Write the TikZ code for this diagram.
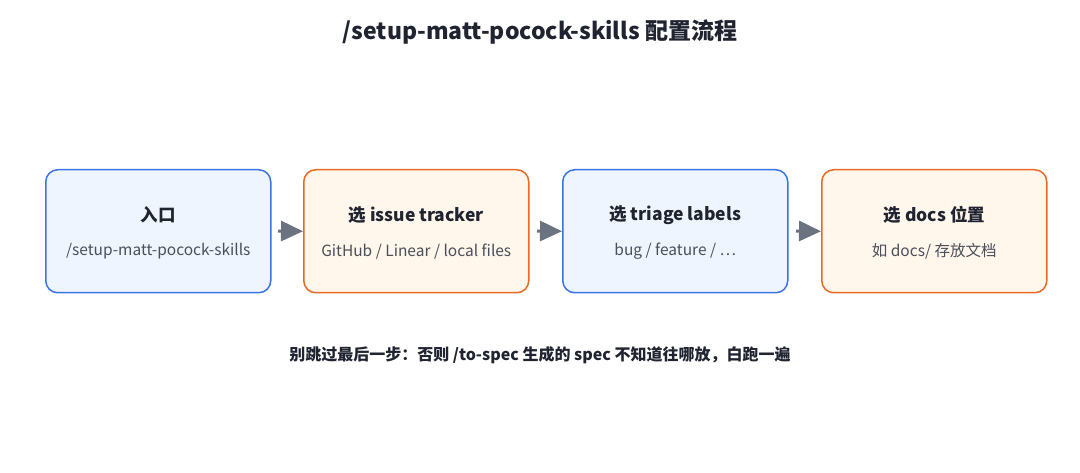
\documentclass[tikz,border=0pt]{standalone}
\usepackage{fontspec}
\setmainfont{Noto Sans CJK SC}
\usetikzlibrary{arrows.meta}
\definecolor{bblue}{HTML}{3B74E8}
\definecolor{fblue}{HTML}{EFF5FE}
\definecolor{borange}{HTML}{EA6A25}
\definecolor{forange}{HTML}{FFF6EC}
\definecolor{txt}{HTML}{1F2430}
\definecolor{sub}{HTML}{4A4F5A}
\definecolor{arr}{HTML}{6B7280}
\begin{document}
\begin{tikzpicture}[x=1pt,y=-1pt,
 box/.style={draw,line width=1.5pt,rounded corners=12pt,minimum width=225pt,minimum height=123pt,anchor=north west},
 bl/.style={box,draw=bblue,fill=fblue},
 or/.style={box,draw=borange,fill=forange},
 ttl/.style={font=\fontsize{17.5}{20}\selectfont\bfseries,text=txt},
 st/.style={font=\fontsize{15.5}{18}\selectfont,text=sub},
 con/.style={draw=arr,line width=3pt,-{Triangle[length=22pt,width=20pt]},shorten >=0pt}]
\useasboundingbox (0,0) rectangle (1080,473);
\node[font=\fontsize{23}{27}\selectfont\bfseries,text=txt] (title) at (540,32) {/setup-matt-pocock-skills 配置流程};
\node[bl] (b1) at (45,169) {};
\node[or] (b2) at (303,169) {};
\node[bl] (b3) at (562,169) {};
\node[or] (b4) at (821,169) {};
\foreach \b/\t/\s in {b1/入口/{/setup-matt-pocock-skills}, b2/{选 issue tracker}/{GitHub / Linear / local files}, b3/{选 triage labels}/{bug / feature / …}, b4/{选 docs 位置}/{如 docs/ 存放文档}}{
 \node[ttl] (\b t) at ([yshift=16pt]\b.center) {\t};
 \node[st] (\b s) at ([yshift=-20pt]\b.center) {\s};
}
\coordinate (a1) at (278,231);
\coordinate (a2) at (537,231);
\coordinate (a3) at (796,231);
\draw[con] (a1) -- (b2.west);
\draw[con] (a2) -- (b3.west);
\draw[con] (a3) -- (b4.west);
\node[font=\fontsize{16}{19}\selectfont\bfseries,text=txt] (note) at (540,355) {别跳过最后一步：否则 /to-spec 生成的 spec 不知道往哪放，白跑一遍};
\end{tikzpicture}
\end{document}
